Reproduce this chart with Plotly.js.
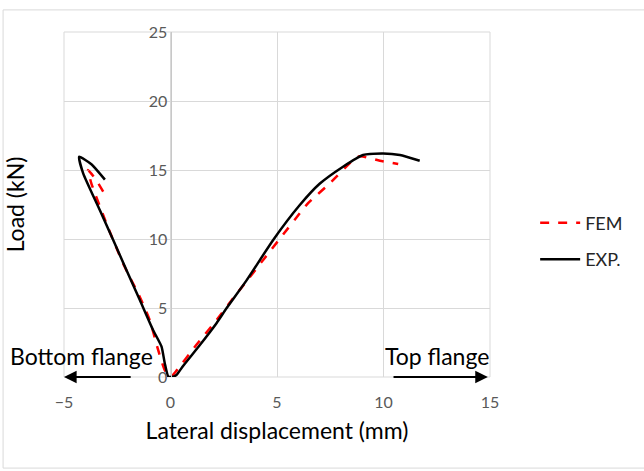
<!DOCTYPE html>
<html>
<head>
<meta charset="utf-8">
<script src="https://cdn.plot.ly/plotly-3.0.1.min.js"></script>
<style>html,body{margin:0;padding:0;background:#fff;}#chart{width:644px;height:471px;}</style>
</head>
<body>
<div id="chart"></div>
<script>
// FEM series (lateral displacement mm, load kN)
var femX = [-3.16, -3.5, -3.87, -3.71, -3.0, -2.22, -1.44, -0.97, -0.58, -0.27, 0, 0.3, 1.2, 2.1, 2.94, 3.6, 4.35, 5.21, 6.07, 6.46, 7.48, 8.57, 8.89, 9.83, 10.69];
var femY = [13.43, 14.3, 15.0, 14.0, 11.1, 8.2, 5.8, 4.1, 1.96, 0.5, 0, 0.5, 2.3, 4.0, 5.7, 7.0, 8.48, 10.17, 11.86, 12.6, 14.03, 15.72, 16.0, 15.67, 15.43];
// Experimental series
var expX = [-3.08, -3.7, -4.29, -4.10, -3.32, -2.69, -2.07, -1.44, -0.82, -0.42, -0.27, -0.11, 0.05, 0.28, 0.59, 1.37, 2.16, 2.63, 3.57, 4.82, 6.07, 7.0, 8.1, 9.04, 9.98, 10.77, 11.7];
var expY = [14.3, 15.4, 15.96, 14.76, 12.1, 9.93, 7.75, 5.58, 3.41, 2.2, 1.0, 0.05, 0, 0.15, 0.8, 2.3, 3.9, 4.98, 7.0, 9.93, 12.46, 14.0, 15.24, 16.09, 16.2, 16.09, 15.67];
var xTicks = [-5, 0, 5, 10, 15];
var yTicks = [0, 5, 10, 15, 20, 25];
var seriesNames = ["FEM", "EXP."];
var xTitle = "Lateral displacement (mm)";
var yTitle = "Load (kN)";
var leftLabel = "Bottom flange";
var rightLabel = "Top flange";

var FONT = "Lato, 'Open Sans', sans-serif";

var traces = [
  {x: femX, y: femY, name: seriesNames[0], mode: "lines", legendgroup: "a",
   line: {color: "#ff0000", width: 2.5, dash: "dash", shape: "spline", smoothing: 0.5}},
  {x: expX, y: expY, name: seriesNames[1], mode: "lines", legendgroup: "b",
   line: {color: "#000000", width: 2.5, shape: "spline", smoothing: 0.5}},
  // invisible helper so the crossing value axis (at x = 0) is drawn
  {x: expX, y: expY, yaxis: "y2", mode: "lines", showlegend: false, hoverinfo: "skip",
   opacity: 0, line: {width: 0}}
];

var layout = {
  width: 644, height: 471,
  margin: {l: 64, r: 154, t: 32, b: 94, autoexpand: false},
  paper_bgcolor: "#ffffff", plot_bgcolor: "#ffffff",
  font: {family: FONT, color: "#404040"},
  showlegend: true,
  legend: {x: 1.106, y: 0.394, xanchor: "left", yanchor: "middle", itemwidth: 40,
           font: {family: FONT, size: 18, color: "#262626"},
           tracegroupgap: 10, traceorder: "grouped", bgcolor: "rgba(0,0,0,0)"},
  xaxis: {range: [-5, 15], tickvals: xTicks, showgrid: true, gridcolor: "#d9d9d9", gridwidth: 1,
          zeroline: false, showline: false, ticks: "", ticklabelstandoff: 14, automargin: false,
          tickfont: {family: FONT, size: 16, color: "#595959"},
          title: {text: xTitle, font: {family: FONT, size: 23, color: "#000000"}, standoff: 12}},
  yaxis: {range: [0, 25], tickvals: yTicks, showgrid: true, gridcolor: "#d9d9d9", gridwidth: 1,
          zeroline: false, showline: false, showticklabels: false, ticks: "", automargin: false,
          title: {text: yTitle, font: {family: FONT, size: 23, color: "#000000"}, standoff: 31}},
  yaxis2: {range: [0, 25], tickvals: yTicks, overlaying: "y", anchor: "free", position: 0.25,
           side: "left", showgrid: false, zeroline: false, showline: true, linecolor: "#c8c8c8",
           linewidth: 1.5, ticks: "", automargin: false,
           tickfont: {family: FONT, size: 16, color: "#595959"}},
  shapes: [
    {type: "rect", xref: "paper", yref: "paper", x0: 0, x1: 1, y0: 0, y1: 1,
     line: {color: "#d9d9d9", width: 1}, layer: "below"},
    {type: "rect", xref: "paper", yref: "paper", x0: -0.143, x1: 1.5, y0: -0.264, y1: 1.064,
     line: {color: "#d9d9d9", width: 1}, layer: "below"}
  ],
  annotations: [
    {x: -5, y: 0, xref: "x", yref: "y", ax: -1.8, ay: 0, axref: "x", ayref: "y", text: "",
     showarrow: true, arrowhead: 2, arrowsize: 1.4, arrowwidth: 1.8, arrowcolor: "#000000"},
    {x: 14.9, y: 0, xref: "x", yref: "y", ax: 10.4, ay: 0, axref: "x", ayref: "y", text: "",
     showarrow: true, arrowhead: 2, arrowsize: 1.4, arrowwidth: 1.8, arrowcolor: "#000000"},
    {x: -4.16, y: 1.55, xref: "x", yref: "y", text: leftLabel, showarrow: false,
     font: {family: FONT, size: 23, color: "#000000"}},
    {x: 12.5, y: 1.55, xref: "x", yref: "y", text: rightLabel, showarrow: false,
     font: {family: FONT, size: 23, color: "#000000"}}
  ]
};

Plotly.newPlot("chart", traces, layout, {displayModeBar: false, staticPlot: true});
</script>
</body>
</html>
